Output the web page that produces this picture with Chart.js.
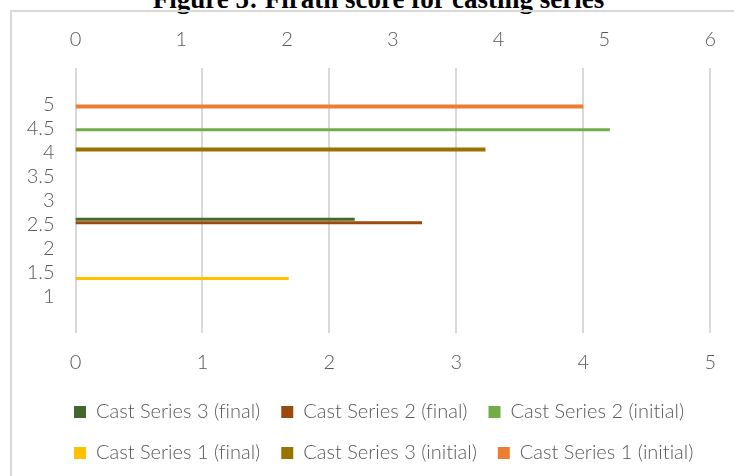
<!DOCTYPE html>
<html>
<head>
<meta charset="utf-8">
<script src="https://cdn.jsdelivr.net/npm/chart.js@4.4.1/dist/chart.umd.min.js"></script>
<style>
  html, body { margin: 0; padding: 0; background: #fff; }
  body { width: 734px; height: 476px; overflow: hidden; position: relative; }
  #title {
    position: absolute; left: 0; width: 757px; top: -14px; text-align: center;
    font: bold 27px/27px "Liberation Serif", "Times New Roman", serif; color: #000;
    white-space: nowrap;
  }
  #frame {
    position: absolute; left: 10px; top: 10px; width: 900px; height: 700px;
    border-left: 2px solid #d9d9d9; border-top: 2px solid #d9d9d9;
  }
  #wrap { position: absolute; left: 0; top: 0; width: 734px; height: 476px; }
</style>
</head>
<body>
<div id="title">Figure 5: Firath score for casting series</div>
<div id="frame"></div>
<div id="wrap"><canvas id="chart"></canvas></div>
<script>
// Firath score per casting series (horizontal lines from 0)
const seriesNames = [
  'Cast Series 3 (final)', 'Cast Series 2 (final)', 'Cast Series 2 (initial)',
  'Cast Series 1 (final)', 'Cast Series 3 (initial)', 'Cast Series 1 (initial)'
];
const seriesScores = [2.2, 2.73, 4.21, 1.68, 3.23, 4.0];   // length on bottom axis
const seriesLevels = [2.61, 2.54, 4.47, 1.38, 4.06, 4.95]; // vertical position
const seriesColors = ['#43682B', '#9E480E', '#70AD47', '#FFC000', '#997300', '#ED7D31'];
const seriesWidths = [3, 3, 3, 3, 4, 4];

const yTicks = [1, 1.5, 2, 2.5, 3, 3.5, 4, 4.5, 5];
const bottomTicks = [0, 1, 2, 3, 4, 5];
const topTicks = [0, 1, 2, 3, 4, 5, 6];

const grey = '#595959';
const tickFont = { size: 20, family: 'Lato', weight: '300' };

// no "fi" ligatures in canvas text, and legend rows start under the axis
const tweaks = {
  id: 'tweaks',
  beforeUpdate: c => { c.ctx.textRendering = 'optimizeSpeed'; },
  afterLayout: c => { c.legend.left += 53; c.legend.right += 53; },
  beforeDraw: c => { c.ctx.textRendering = 'optimizeSpeed'; }
};

const datasets = seriesNames.map((name, i) => ({
  label: name,
  data: [{ x: 0, y: seriesLevels[i] }, { x: seriesScores[i], y: seriesLevels[i] }],
  showLine: true,
  borderColor: seriesColors[i],
  backgroundColor: seriesColors[i],
  borderWidth: seriesWidths[i],
  borderCapStyle: 'butt',
  pointRadius: 0,
  pointHoverRadius: 0,
  xAxisID: 'x',
  yAxisID: 'y'
}));

new Chart(document.getElementById('chart'), {
  type: 'scatter',
  data: { datasets },
  plugins: [tweaks],
  options: {
    responsive: true,
    maintainAspectRatio: false,
    animation: false,
    layout: { padding: { left: 0, right: 18, top: 20, bottom: 3 } },
    plugins: {
      tooltip: { enabled: false },
      legend: {
        position: 'bottom',
        align: 'start',
        labels: {
          boxWidth: 12, boxHeight: 12, padding: 21,
          font: tickFont, color: grey,
          generateLabels: chart => chart.data.datasets.map((d, i) => ({
            text: d.label, fillStyle: d.borderColor, strokeStyle: d.borderColor,
            lineWidth: 0, datasetIndex: i, fontColor: grey
          }))
        }
      }
    },
    scales: {
      x: {
        type: 'linear', position: 'bottom', min: 0, max: 5,
        afterBuildTicks: s => { s.ticks = bottomTicks.map(v => ({ value: v })); },
        afterFit: s => { s.height = 48; },
        grid: { color: '#d9d9d9', lineWidth: 2, drawTicks: false },
        border: { display: false },
        ticks: { font: tickFont, color: grey, padding: 18, maxRotation: 0 }
      },
      x2: {
        type: 'linear', position: 'top', min: 0, max: 6,
        afterBuildTicks: s => { s.ticks = topTicks.map(v => ({ value: v })); },
        afterFit: s => { s.height = 48; },
        grid: { display: false, drawTicks: false },
        border: { display: false },
        ticks: { font: tickFont, color: grey, padding: 16, maxRotation: 0 }
      },
      y: {
        type: 'linear', min: 0.25, max: 5.75,
        afterBuildTicks: s => { s.ticks = yTicks.map(v => ({ value: v })); },
        afterFit: s => { s.width = 75.5; },
        grid: { display: false, drawTicks: false },
        border: { display: false },
        ticks: { font: tickFont, color: grey, padding: 21, callback: v => String(v) }
      }
    }
  }
});
</script>
</body>
</html>
